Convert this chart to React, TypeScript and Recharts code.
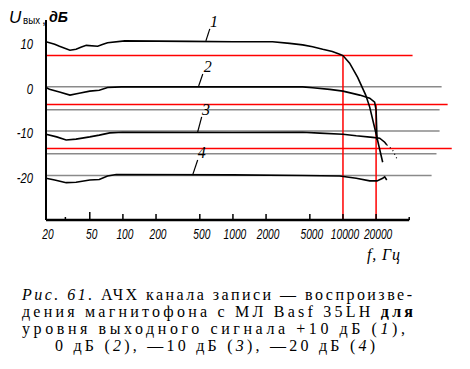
import React from 'react';
import { LineChart, Line, XAxis, YAxis, ReferenceDot, ReferenceLine } from 'recharts';

// Curve 1: +10 dB output level
const curve1Freq = [20, 24, 26.5, 33, 37.5, 42, 46.5, 59, 66, 72.5, 104, 400, 1000, 2290, 3280, 4300, 5300, 6540, 8000, 9340, 10000, 11500, 13600, 16100, 17500, 19640, 22960];
const curve1Level = [10.1, 9.55, 9.1, 8.2, 8.4, 8.9, 9.3, 9.1, 9.55, 9.9, 10.3, 10.2, 10.1, 10.1, 9.75, 9.4, 9.0, 8.4, 7.9, 7.3, 7.0, 5.3, 2.1, -1.9, -4.6, -9.8, -17];
// Curve 2: 0 dB
const curve2Freq = [20, 21.5, 26.5, 33, 40, 50, 61, 72.5, 97, 1000, 4300, 5300, 7570, 10000, 14200, 17500, 19400, 20000, 20400];
const curve2Level = [-0.2, -0.6, -1.2, -1.9, -1.5, -1.0, -0.8, -0.2, -0.05, -0.05, -0.05, -0.25, -0.6, -1.0, -1.9, -2.6, -3.5, -5.3, -12];
// Curve 3: -10 dB
const curve3Freq = [20, 25, 30.5, 37.5, 50, 61, 76, 99, 1000, 4300, 6140, 10000, 13200, 18600, 21560, 23960, 25000];
const curve3Level = [-10.7, -11.3, -12.0, -11.8, -11.3, -10.9, -10.4, -10.25, -10.3, -10.25, -10.45, -10.7, -11.05, -11.4, -11.6, -12.5, -13.1];
const curve3TailFreq = [25000, 26600, 28300, 30760];
const curve3TailLevel = [-13.1, -13.6, -14.3, -16.1];
// Curve 4: -20 dB
const curve4Freq = [20, 24, 30.5, 37.5, 50, 61, 72.5, 87, 1000, 4300, 9340, 13200, 17500, 20400, 22960, 23960, 25000];
const curve4Level = [-20.6, -21.0, -21.6, -21.5, -21.0, -20.9, -20.1, -19.75, -19.85, -20.0, -20.1, -20.6, -21.2, -21.2, -20.6, -20.3, -21.0];

// Axis ticks
const xTicks = [20, 30, 50, 100, 200, 500, 1000, 2000, 5000, 10000, 20000, 40000];
const xTickLabels = ['20', '', '50', '100', '200', '500', '1000', '2000', '5000', '10000', '20000', ''];
const yTicks = [10, 0, -10, -20];
const yTickLabels = ['10', '0', '-10', '-20'];

// Horizontal guide lines drawn on the scan
const grayLevels = [0, -5.2, -10, -15.1, -20];
const grayEnds = [78800, 75500, 75500, 70800, 63900];
const redLevels = [7, -4, -13.9];
const redEnds = [42900, 89400, 97400];
const redVertFreqs = [10000, 20000];
const redVertTops = [7, -4];

// Curve number labels and leaders
const curveNames = ['1', '2', '3', '4'];
const labelFreq = [672, 590, 568, 520];
const labelLevel = [13.4, 3.3, -6.4, -16.0];
const leaderFromFreq = [568, 488, 478, 430];
const leaderFromLevel = [10.3, 0.16, -10.2, -19.9];
const leaderToFreq = [616, 532, 520, 478];
const leaderToLevel = [13.0, 2.86, -6.8, -16.5];

const zip = (fs: number[], ds: number[]) => fs.map((f, i) => ({ f, db: ds[i] }));

const tickFont = "'Liberation Sans', sans-serif";

const XTick = (props: any) => {
  const { x, y, payload } = props;
  const i = xTicks.indexOf(payload.value);
  const label = i >= 0 ? xTickLabels[i] : '';
  const len = label ? (payload.value === 50 ? 8 : 6) : 3;
  return (
    <g>
      <line x1={x} x2={x} y1={y} y2={y - len} stroke="#000" strokeWidth={1.5} />
      {label ? (
        <text transform={`translate(${x + 2},${y + 19}) scale(0.68,1)`} textAnchor="middle" fontSize={15}
          fontStyle="italic" fontFamily={tickFont} fill="#000">{label}</text>
      ) : null}
    </g>
  );
};

const YTick = (props: any) => {
  const { x, y, payload } = props;
  const i = yTicks.indexOf(payload.value);
  const label = i >= 0 ? yTickLabels[i] : '';
  return (
    <text transform={`translate(${x - 13},${y + 7}) scale(0.75,1)`} textAnchor="end" fontSize={15}
      fontStyle="italic" fontFamily={tickFont} fill="#000">{label}</text>
  );
};

const NumberLabel = (name: string) => (props: any) => (
  <text x={props.cx} y={props.cy} textAnchor="middle" fontSize={16} fontStyle="italic" fontFamily="'Liberation Serif', serif" fill="#000">{name}</text>
);

export default function App() {
  const serif = "'Liberation Serif', 'DejaVu Serif', serif";
  return (
    <div style={{ position: 'absolute', left: 0, top: 0, width: 470, height: 369, background: '#fff' }}>
      <LineChart width={470} height={270} margin={{ top: 20, right: 17, bottom: 0, left: 0 }}>
        <XAxis type="number" dataKey="f" scale="log" domain={[20, 100000]} ticks={xTicks} tick={<XTick />}
          tickLine={false} axisLine={false} tickSize={0} tickMargin={0} height={50} interval={0} />
        <YAxis type="number" dataKey="db" domain={[-30, 15]} ticks={yTicks} tick={<YTick />} width={46}
          tickLine={false} axisLine={{ stroke: '#000', strokeWidth: 2 }} tickSize={0} tickMargin={0} interval={0} />
        {grayLevels.map((lv, i) => (
          <Line key={'g' + i} data={zip([20, grayEnds[i]], [lv, lv])} dataKey="db" stroke="#8a8a8a" strokeWidth={1.5}
            dot={false} isAnimationActive={false} />
        ))}
        {redLevels.map((lv, i) => (
          <Line key={'r' + i} data={zip([20, redEnds[i]], [lv, lv])} dataKey="db" stroke="#ff0000" strokeWidth={1.5}
            dot={false} isAnimationActive={false} />
        ))}
        {redVertFreqs.map((fv, i) => (
          <Line key={'rv' + i} data={zip([fv, fv], [redVertTops[i], -30])} dataKey="db" stroke="#ff0000" strokeWidth={1.5}
            dot={false} isAnimationActive={false} />
        ))}
        <Line data={zip(curve1Freq, curve1Level)} dataKey="db" stroke="#000" strokeWidth={1.6} dot={false} isAnimationActive={false} />
        <Line data={zip(curve2Freq, curve2Level)} dataKey="db" stroke="#000" strokeWidth={1.6} dot={false} isAnimationActive={false} />
        <Line data={zip(curve3Freq, curve3Level)} dataKey="db" stroke="#000" strokeWidth={1.6} dot={false} isAnimationActive={false} />
        <Line data={zip(curve3TailFreq, curve3TailLevel)} dataKey="db" stroke="#000" strokeWidth={1.2} strokeDasharray="1 3" dot={false} isAnimationActive={false} />
        <Line data={zip(curve4Freq, curve4Level)} dataKey="db" stroke="#000" strokeWidth={1.6} dot={false} isAnimationActive={false} />
        {curveNames.map((n, i) => (
          <Line key={'l' + i} data={zip([leaderFromFreq[i], leaderToFreq[i]], [leaderFromLevel[i], leaderToLevel[i]])}
            dataKey="db" stroke="#000" strokeWidth={1.2} dot={false} isAnimationActive={false} />
        ))}
        {curveNames.map((n, i) => (
          <ReferenceDot key={'n' + i} x={labelFreq[i]} y={labelLevel[i]} r={0} ifOverflow="visible" shape={NumberLabel(n)} />
        ))}
        <ReferenceLine segment={[{ x: 20, y: -30 }, { x: 40000, y: -30 }]} stroke="#000" strokeWidth={2.5} ifOverflow="visible" />
      </LineChart>
      <svg width={470} height={369} style={{ position: 'absolute', left: 0, top: 0, pointerEvents: 'none' }}>
        <text x={9} y={23} fontSize={17} fontStyle="italic" fontFamily="'Liberation Sans', sans-serif">U</text>
        <text x={23} y={24} fontSize={11} fontFamily="'Liberation Sans', sans-serif" textLength={17} lengthAdjust="spacingAndGlyphs">вых</text>
        <text x={42} y={24} fontSize={14} fontFamily="'Liberation Sans', sans-serif">,</text>
        <text x={49} y={22} fontSize={15} fontStyle="italic" fontWeight="bold" fontFamily="'Liberation Sans', sans-serif" textLength={19} lengthAdjust="spacingAndGlyphs">дБ</text>
        <text x={367} y={260} fontSize={16} fontStyle="italic" fontFamily="'Liberation Serif', serif" textLength={33} lengthAdjust="spacing">f, Гц</text>
        <text x={22} y={300} fontSize={16} fontFamily={serif} textLength={390} lengthAdjust="spacing">
          <tspan fontStyle="italic">Рис. 61.</tspan> АЧХ канала записи — воспроизве-
        </text>
        <text x={22} y={317} fontSize={16} fontFamily={serif} textLength={391} lengthAdjust="spacing">
          дения магнитофона с МЛ Basf 35LH <tspan fontWeight="bold">для</tspan>
        </text>
        <text x={22} y={334} fontSize={16} fontFamily={serif} textLength={383} lengthAdjust="spacing">
          уровня выходного сигнала +10 дБ (<tspan fontStyle="italic">1</tspan>),
        </text>
        <text x={55} y={351} fontSize={16} fontFamily={serif} textLength={320} lengthAdjust="spacing">
          0 дБ (<tspan fontStyle="italic">2</tspan>), —10 дБ (<tspan fontStyle="italic">3</tspan>), —20 дБ (<tspan fontStyle="italic">4</tspan>)
        </text>
      </svg>
    </div>
  );
}
